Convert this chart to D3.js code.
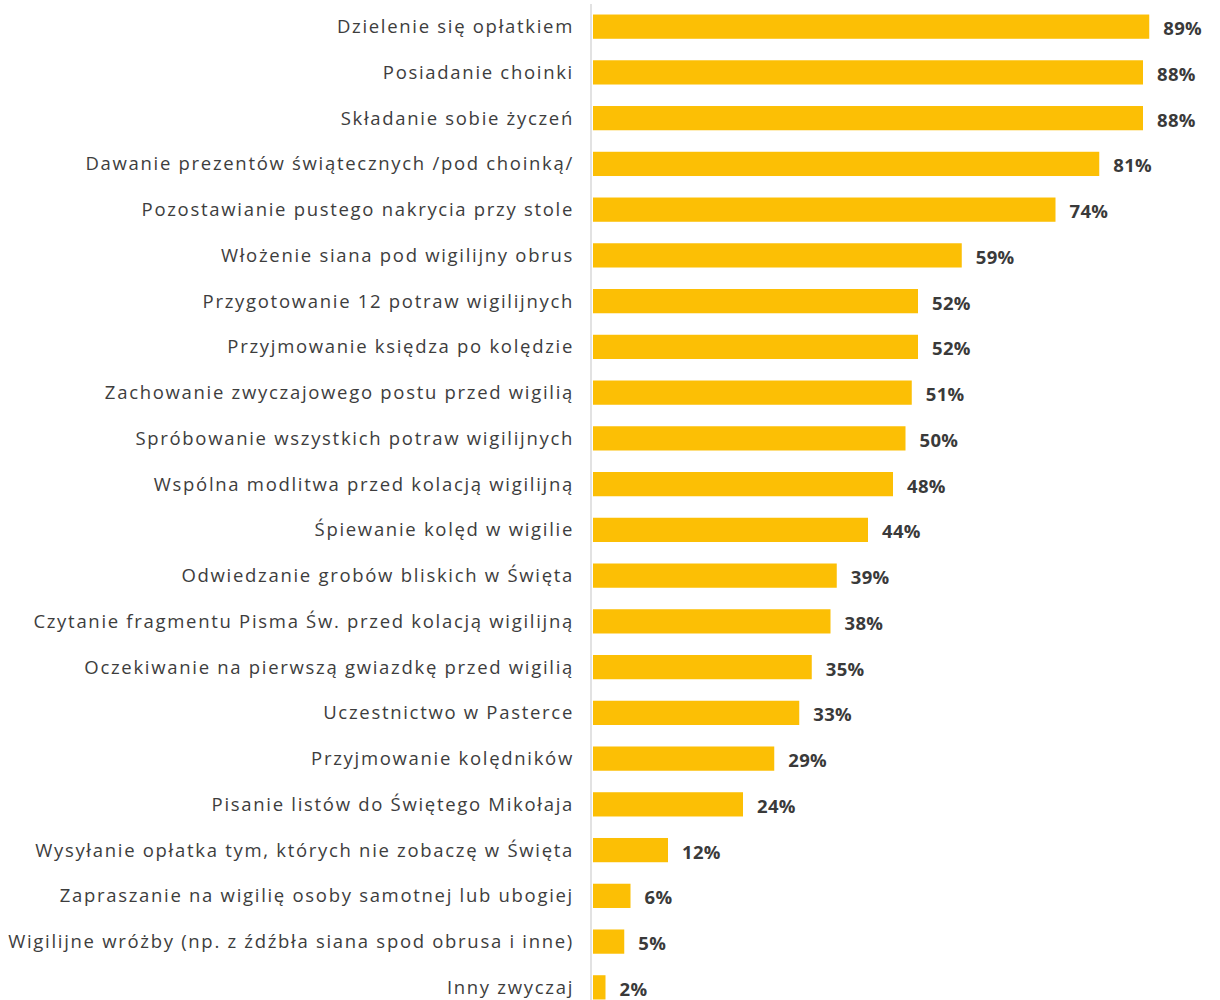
<!DOCTYPE html>
<html><head><meta charset="utf-8">
<script src="https://cdn.jsdelivr.net/npm/d3@7"></script>
<style>body{margin:0;background:#fff;}</style>
</head><body>
<svg id="chart" width="1220" height="1000"></svg>
<script>
const categories = [
  "Dzielenie się opłatkiem",
  "Posiadanie choinki",
  "Składanie sobie życzeń",
  "Dawanie prezentów świątecznych /pod choinką/",
  "Pozostawianie pustego nakrycia przy stole",
  "Włożenie siana pod wigilijny obrus",
  "Przygotowanie 12 potraw wigilijnych",
  "Przyjmowanie księdza po kolędzie",
  "Zachowanie zwyczajowego postu przed wigilią",
  "Spróbowanie wszystkich potraw wigilijnych",
  "Wspólna modlitwa przed kolacją wigilijną",
  "Śpiewanie kolęd w wigilie",
  "Odwiedzanie grobów bliskich w Święta",
  "Czytanie fragmentu Pisma Św. przed kolacją wigilijną",
  "Oczekiwanie na pierwszą gwiazdkę przed wigilią",
  "Uczestnictwo w Pasterce",
  "Przyjmowanie kolędników",
  "Pisanie listów do Świętego Mikołaja",
  "Wysyłanie opłatka tym, których nie zobaczę w Święta",
  "Zapraszanie na wigilię osoby samotnej lub ubogiej",
  "Wigilijne wróżby (np. z źdźbła siana spod obrusa i inne)",
  "Inny zwyczaj"
];
const values = [89,88,88,81,74,59,52,52,51,50,48,44,39,38,35,33,29,24,12,6,5,2];

const svg = d3.select("#chart");
const x = d3.scaleLinear().domain([0,100]).range([593, 1218]);
const y = d3.scaleBand().domain(categories).range([4, 1010]).paddingInner(0.47).paddingOuter(0.23);

// axis line
svg.append("line").attr("x1",591).attr("x2",591).attr("y1",4).attr("y2",1000)
  .attr("stroke","#d9d9d9").attr("stroke-width",1.5);

svg.selectAll("rect.bar").data(values).join("rect").attr("class","bar")
  .attr("x", x(0)).attr("y",(d,i)=>y(categories[i]))
  .attr("width", d=>x(d)-x(0)).attr("height", y.bandwidth())
  .attr("fill","#FCBF05");

svg.selectAll("text.cat").data(categories).join("text").attr("class","cat")
  .attr("x",574).attr("y",d=>y(d)+y.bandwidth()/2).attr("dy","0.35em")
  .attr("text-anchor","end").attr("font-family","'Open Sans', sans-serif")
  .attr("font-size",18.5).attr("letter-spacing","1.7px").attr("fill","#3d3d3d").text(d=>d);

svg.selectAll("text.val").data(values).join("text").attr("class","val")
  .attr("x",d=>x(d)+14).attr("y",(d,i)=>y(categories[i])+y.bandwidth()/2+2).attr("dy","0.35em")
  .attr("font-family","'Open Sans', sans-serif").attr("font-weight","bold")
  .attr("font-size",18.5).attr("letter-spacing","0.3px").attr("fill","#3a3a3a").text(d=>d+"%");
</script>
</body></html>
